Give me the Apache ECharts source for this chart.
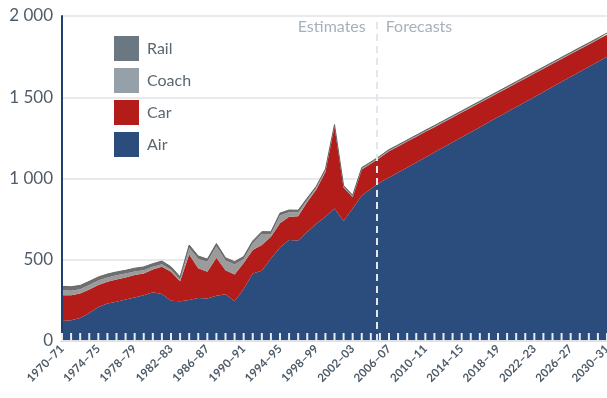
<!DOCTYPE html>
<html><head><meta charset="utf-8">
<script src="https://cdn.jsdelivr.net/npm/echarts@6/dist/echarts.min.js"></script>
<style>html,body{margin:0;padding:0;background:#fff}#c{width:607px;height:398px}</style>
</head><body><div id="c"></div>
<script>
// Categories: financial years 1970–71 … 2030–31
const years = [];
for (let y = 1970; y <= 2030; y++) years.push(y + '–' + String((y + 1) % 100).padStart(2, '0'));

const yTicks = [0, 500, 1000, 1500, 2000];

const air = [123,128,142,173,210,231,241,256,268,282,
  300,290,248,245,252,265,262,278,288,245,
  320,416,432,508,576,621,618,673,722,764,
  815,738,815,895,935,976,1006,1037,1068,1099,
  1130,1161,1192,1223,1254,1285,1316,1347,1378,1409,
  1440,1471,1502,1533,1564,1595,1626,1657,1688,1719,
  1750];
const car = [159,154,150,144,134,133,138,135,138,134,
  140,167,178,123,281,182,164,234,148,165,
  160,144,159,134,149,144,150,182,211,276,
  505,207,70,161,156,151,161,160,159,158,
  157,155,154,153,152,151,150,149,148,147,
  146,145,144,143,142,141,140,139,137,136,
  135];
const coach = [30,28,27,28,28,27,25,24,22,20,
  17,16,13,9,40,58,61,71,59,61,
  24,40,67,15,47,27,23,13,10,9,
  4,5,5,5,5,5,5,4,4,4,
  4,4,4,4,4,4,4,4,4,4,
  4,4,4,4,4,4,4,4,4,4,
  4];
const rail = [24,24,23,22,22,21,21,20,20,20,
  19,19,18,18,18,18,17,17,17,17,
  16,16,15,15,15,14,14,12,10,9,
  8,7,7,6,6,6,6,6,6,6,
  6,6,6,6,6,6,6,6,6,6,
  6,6,6,6,6,6,6,6,6,6,
  6];
const splitIndex = 34.65; // boundary between estimates and forecasts (category index)
const periodLabels = ['Estimates', 'Forecasts'];

const font = 'Lato, "Open Sans", sans-serif';
const gridTop = 16, gridBottom = 57, chartH = 398;
const yMax = yTicks[yTicks.length-1];
// tick-mark length of 8 px expressed in axis units
const tickLen = yMax * 8 / (chartH - gridTop - gridBottom);

function fmt(v){ return v >= 1000 ? Math.floor(v/1000) + ' ' + String(v % 1000).padStart(3,'0') : String(v); }

function areaSeries(name, data, areaColor, legendColor, line){
  return {
    name, type:'line', stack:'total', data, symbol:'none', smooth:false,
    itemStyle:{color:legendColor},
    lineStyle: line || {width:0},
    areaStyle:{color:areaColor, opacity:1},
    emphasis:{disabled:true}
  };
}

const chart = echarts.init(document.getElementById('c'), null, {renderer:'canvas'});
chart.setOption({
  animation:false,
  textStyle:{fontFamily:font},
  grid:{left:62, right:0, top:gridTop, bottom:gridBottom, containLabel:false, outerBoundsMode:'none'},
  legend:{
    orient:'vertical', left:114, top:36, padding:0, itemWidth:25, itemHeight:25, itemGap:7,
    icon:'rect', data:['Rail','Coach','Car','Air'],
    textStyle:{fontSize:16, color:'#5b6770', fontFamily:font, padding:[0,0,0,3]},
    selectedMode:false
  },
  xAxis:[{
    type:'category', data:years, boundaryGap:false, zlevel:1, z:10,
    axisLine:{show:true, onZero:false, lineStyle:{color:'#dde1e6', width:2}},
    axisTick:{show:false},
    axisLabel:{interval:3, rotate:45, fontSize:11.5, fontWeight:'bold', color:'#4e5b67', margin:6, fontFamily:font},
    splitLine:{show:false}
  },{
    type:'value', min:0, max:years.length-1, show:false
  }],
  yAxis:[{
    type:'value', min:yTicks[0], max:yMax, interval:500,
    axisLine:{show:false},
    axisTick:{show:false},
    axisLabel:{fontSize:17, color:'#4f5c67', margin:9, formatter:fmt, fontFamily:font},
    splitLine:{show:true, lineStyle:{color:'#e8eaee', width:2}}
  },{
    type:'value', min:yTicks[0], max:yMax, interval:500, position:'left', offset:0, zlevel:1, z:10,
    axisLine:{show:true, lineStyle:{color:'#1f3f70', width:2}},
    axisTick:{show:false}, axisLabel:{show:false}, splitLine:{show:false}
  }],
  series:[
    areaSeries('Air', air, '#2a4d7d', '#2a4d7d'),
    areaSeries('Car', car, '#b31c19', '#b31c19'),
    areaSeries('Coach', coach, '#9b9b9b', '#96a0a8'),
    areaSeries('Rail', rail, '#6f6f6f', '#6b7882', {width:1, color:'#666'}),
    {
      // inner tick marks at every category, drawn as thin bars through the axis scales
      type:'bar', name:'ticks', xAxisIndex:0, yAxisIndex:0, z:10, zlevel:1, silent:true,
      data: years.map(() => tickLen), barWidth:2, barGap:'-100%',
      itemStyle:{color:'#e8ebef'}, emphasis:{disabled:true}, legendHoverLink:false
    },
    {
      type:'line', xAxisIndex:1, yAxisIndex:0, data:[], z:5, silent:true,
      markLine:{
        silent:true, symbol:['none','none'], animation:false,
        lineStyle:{color:'#e3e7ec', type:[7,5], width:2},
        label:{show:false},
        data:[{xAxis:splitIndex}]
      }
    }
  ]
});

// Period labels anchored to the split position through the axis scales
const sx = chart.convertToPixel({xAxisIndex:1}, splitIndex);
const topY = chart.convertToPixel({yAxisIndex:0}, yMax);
chart.setOption({
  graphic:[
    {type:'text', x:sx - 11, y:topY + 11, silent:true,
      style:{text:periodLabels[0], align:'right', verticalAlign:'middle', fontSize:16, fill:'#a7b1bb', fontFamily:font}},
    {type:'text', x:sx + 9, y:topY + 11, silent:true,
      style:{text:periodLabels[1], align:'left', verticalAlign:'middle', fontSize:16, fill:'#a7b1bb', fontFamily:font}}
  ]
});
</script></body></html>
